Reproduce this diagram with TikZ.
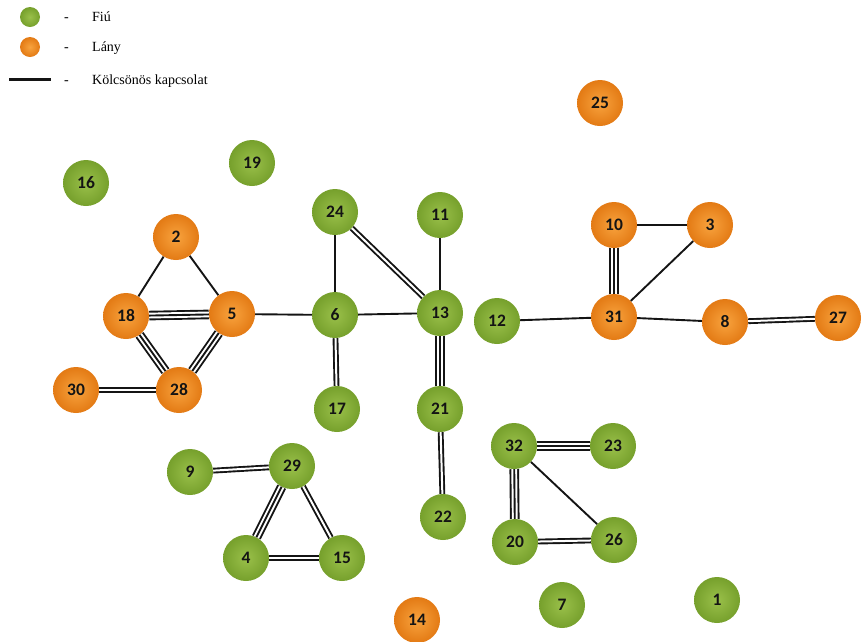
\documentclass[tikz,border=0pt]{standalone}
\usepackage{fontspec}
\setmainfont{Liberation Serif}
\newfontfamily\labelfont{Carlito}
\definecolor{fiuin}{HTML}{9AC04A}
\definecolor{fiuout}{HTML}{76A02C}
\definecolor{lanyin}{HTML}{F8A33E}
\definecolor{lanyout}{HTML}{E37A14}
\definecolor{ink}{HTML}{141414}
\pgfdeclarelayer{bg}
\pgfsetlayers{bg,main}
\begin{document}
\begin{tikzpicture}[x=1pt,y=-1pt,
  person/.style={circle, minimum size=46pt, inner sep=0pt,
    font=\labelfont\bfseries\fontsize{17.5}{18}\selectfont, text=ink},
  fiu/.style={person, shading=radial, inner color=fiuin, outer color=fiuout},
  lany/.style={person, shading=radial, inner color=lanyin, outer color=lanyout},
  link/.style={line width=1.9pt, draw=ink},
  link2/.style={link, double=white, double distance=2pt},
  link3outer/.style={link, double=white, double distance=5.8pt},
  legendtext/.style={anchor=base west, inner sep=0pt, font=\fontsize{14}{15}\selectfont},
]
\useasboundingbox (0,0) rectangle (862,641);

% legend
\node[fiu, minimum size=20pt] (lgfiu) at (30,17) {};
\node[lany, minimum size=20pt] (lglany) at (30,47) {};
\coordinate (lga) at (9,79);
\coordinate (lgb) at (51,79);
\draw[line width=3pt, ink] (lga) -- (lgb);
\node[legendtext] (d1) at (64,21.5) {-};
\node[legendtext] (d2) at (64,51.5) {-};
\node[legendtext] (d3) at (64,84) {-};
\node[legendtext] (t1) at (92,21.5) {Fiú};
\node[legendtext] (t2) at (92,51.5) {Lány};
\node[legendtext] (t3) at (92,84) {Kölcsönös kapcsolat};

% persons
\node[fiu]  (n16) at (86,183) {16};
\node[fiu]  (n19) at (252,163) {19};
\node[lany] (n25) at (600,103) {25};
\node[fiu]  (n24) at (335,212) {24};
\node[fiu]  (n11) at (440,215) {11};
\node[lany] (n2)  at (176,237) {2};
\node[lany] (n10) at (614,225) {10};
\node[lany] (n3)  at (710,225) {3};
\node[lany] (n18) at (126,316) {18};
\node[lany] (n5)  at (232,314) {5};
\node[fiu]  (n6)  at (335,315) {6};
\node[fiu]  (n13) at (440,313) {13};
\node[fiu]  (n12) at (497,321) {12};
\node[lany] (n31) at (614,317) {31};
\node[lany] (n8)  at (725,322) {8};
\node[lany] (n27) at (838,318) {27};
\node[lany] (n30) at (76,390) {30};
\node[lany] (n28) at (179,390) {28};
\node[fiu]  (n17) at (337,409) {17};
\node[fiu]  (n21) at (440,409) {21};
\node[fiu]  (n32) at (514,446) {32};
\node[fiu]  (n23) at (613,446) {23};
\node[fiu]  (n9)  at (190,472) {9};
\node[fiu]  (n29) at (292,466) {29};
\node[fiu]  (n22) at (443,517) {22};
\node[fiu]  (n4)  at (246,558) {4};
\node[fiu]  (n15) at (342,558) {15};
\node[fiu]  (n20) at (515,542) {20};
\node[fiu]  (n26) at (614,540) {26};
\node[lany] (n14) at (417,620) {14};
\node[fiu]  (n7)  at (562,605) {7};
\node[fiu]  (n1)  at (717,600) {1};

% connections
\begin{pgfonlayer}{bg}
  % single
  \foreach \a/\b in {n2/n18, n2/n5, n5/n6, n24/n6, n6/n13, n11/n13,
                     n12/n31, n10/n3, n3/n31, n31/n8, n32/n26}
    \draw[link] (\a) -- (\b);
  % double
  \foreach \a/\b in {n30/n28, n24/n13, n6/n17, n21/n22, n8/n27,
                     n20/n26, n9/n29, n29/n15, n4/n15}
    \draw[link2] (\a) -- (\b);
  % triple
  \foreach \a/\b in {n18/n5, n18/n28, n5/n28, n13/n21, n10/n31,
                     n32/n23, n32/n20, n29/n4}
  {
    \draw[link3outer] (\a) -- (\b);
    \draw[link] (\a) -- (\b);
  }
\end{pgfonlayer}
\end{tikzpicture}
\end{document}
